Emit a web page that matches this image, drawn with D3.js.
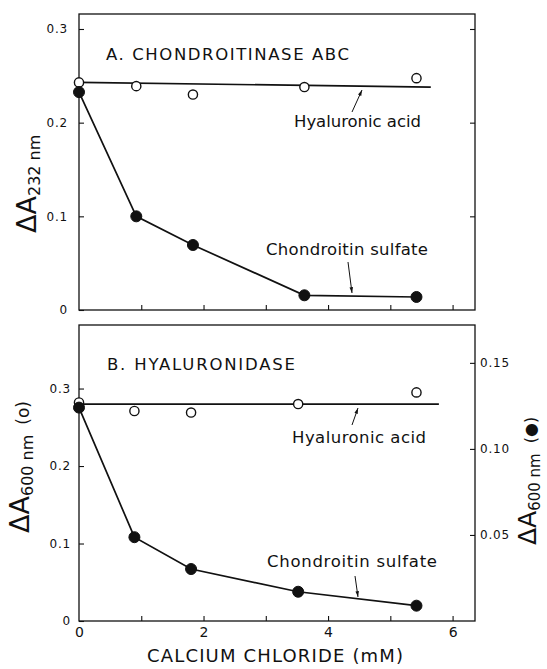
<!DOCTYPE html>
<html><head><meta charset="utf-8">
<script src="https://cdn.jsdelivr.net/npm/d3@7"></script>
<style>
html,body{margin:0;padding:0;background:#fff;}
svg{display:block;}
text{font-family:"DejaVu Sans","Liberation Sans",sans-serif;fill:#111;}
</style></head>
<body>
<script>
// ---------- DATA ----------
// Panel A: Chondroitinase ABC, ΔA232 nm
const xA = [0, 0.92, 1.83, 3.62, 5.42];
const hyaluronicA = [0.243, 0.239, 0.230, 0.238, 0.2475];
const chondroitinA = [0.2326, 0.100, 0.0694, 0.0157, 0.0139];
const hyaFitXA = [0, 5.65];
const hyaFitYA = [0.243, 0.238];
// Panel B: Hyaluronidase, ΔA600 nm (o left axis, ● right axis)
const xB = [0, 0.89, 1.80, 3.52, 5.42];
const hyaluronicB = [0.282, 0.271, 0.269, 0.280, 0.295];
const chondroitinB = [0.124, 0.0487, 0.0302, 0.0170, 0.0089];
const hyaFitXB = [0, 5.78];
const hyaFitYB = [0.280, 0.280];
// ticks
const xTickMarks = [1, 2, 3, 4, 5, 6];
const xTickLabels = [0, 2, 4, 6];
const yTicksA = [0, 0.1, 0.2, 0.3];
const yTicksBLeft = [0, 0.1, 0.2, 0.3];
const yTicksBRight = [0.05, 0.10, 0.15];

// ---------- LAYOUT ----------
const W = 547, H = 669;
const FONT = '"DejaVu Sans","Liberation Sans",sans-serif';
const svg = d3.select("body").append("svg").attr("width", W).attr("height", H);
const left = 79, right = 475;
const x = d3.scaleLinear().domain([0, 6.36]).range([left, right]);

const pA = {top: 14, bottom: 310};
const pB = {top: 325, bottom: 621};
const yA = d3.scaleLinear().domain([0, 0.316]).range([pA.bottom, pA.top]);
const yBL = d3.scaleLinear().domain([0, 0.382]).range([pB.bottom, pB.top]);
const yBR = d3.scaleLinear().domain([0, 0.172]).range([pB.bottom, pB.top]);

function frame(p) {
  svg.append("rect").attr("x", left).attr("y", p.top)
    .attr("width", right - left).attr("height", p.bottom - p.top)
    .attr("fill", "none").attr("stroke", "#111").attr("stroke-width", 1.3);
}
frame(pA); frame(pB);

function styleAxis(g, fs, ls) {
  g.select(".domain").remove();
  g.selectAll("line").attr("stroke", "#111").attr("stroke-width", 1.1);
  g.selectAll("text").attr("font-size", fs).attr("fill", "#111")
    .attr("letter-spacing", ls || 0).style("font-family", FONT);
}

// Panel A axes
svg.append("g").attr("transform", `translate(${left},0)`)
  .call(d3.axisLeft(yA).tickValues(yTicksA).tickSizeInner(-5).tickSizeOuter(0).tickPadding(11)
    .tickFormat(d => d === 0 ? "0" : d3.format(".1f")(d)))
  .call(g => styleAxis(g, 12, 0.8));
svg.append("g").attr("transform", `translate(${right},0)`)
  .call(d3.axisRight(yA).tickValues(yTicksA.filter(d => d > 0)).tickSizeInner(-5).tickSizeOuter(0).tickFormat(""))
  .call(g => styleAxis(g, 12));
svg.append("g").attr("transform", `translate(0,${pA.bottom})`)
  .call(d3.axisBottom(x).tickValues(xTickMarks).tickSizeInner(-5).tickSizeOuter(0).tickFormat(""))
  .call(g => styleAxis(g, 12));

// Panel B axes
svg.append("g").attr("transform", `translate(${left},0)`)
  .call(d3.axisLeft(yBL).tickValues(yTicksBLeft).tickSizeInner(-5).tickSizeOuter(0).tickPadding(8)
    .tickFormat(d => d === 0 ? "0" : d3.format(".1f")(d)))
  .call(g => styleAxis(g, 12, 0.8));
svg.append("g").attr("transform", `translate(${right},0)`)
  .call(d3.axisRight(yBR).tickValues(yTicksBRight).tickSizeInner(-5).tickSizeOuter(0).tickPadding(5)
    .tickFormat(d3.format(".2f")))
  .call(g => styleAxis(g, 12, 0.8));
svg.append("g").attr("transform", `translate(0,${pB.bottom})`)
  .call(d3.axisBottom(x).tickValues(xTickMarks).tickSizeInner(-5).tickSizeOuter(0).tickFormat(""))
  .call(g => styleAxis(g, 12));
svg.append("g").attr("transform", `translate(0,${pB.bottom})`)
  .call(d3.axisBottom(x).tickValues(xTickLabels).tickSize(0).tickPadding(6).tickFormat(d3.format("d")))
  .call(g => styleAxis(g, 14));

// ---------- MARKS ----------
function drawSeries(xs, ys, yScale, filled, withLine) {
  const pts = xs.map((d, i) => [x(d), yScale(ys[i])]);
  if (withLine) {
    svg.append("path").attr("d", d3.line()(pts))
      .attr("fill", "none").attr("stroke", "#111").attr("stroke-width", 1.7);
  }
  svg.append("g").selectAll("circle").data(pts).join("circle")
    .attr("cx", d => d[0]).attr("cy", d => d[1])
    .attr("r", filled ? 5.5 : 4.6)
    .attr("fill", filled ? "#111" : "#fff")
    .attr("stroke", "#111").attr("stroke-width", filled ? 1 : 1.4);
}
function fitLine(xs, ys, yScale) {
  svg.append("path").attr("d", d3.line()(xs.map((d, i) => [x(d), yScale(ys[i])])))
    .attr("fill", "none").attr("stroke", "#111").attr("stroke-width", 1.7);
}

fitLine(hyaFitXA, hyaFitYA, yA);
drawSeries(xA, hyaluronicA, yA, false, false);
drawSeries(xA, chondroitinA, yA, true, true);

fitLine(hyaFitXB, hyaFitYB, yBL);
drawSeries(xB, hyaluronicB, yBL, false, false);
drawSeries(xB, chondroitinB, yBR, true, true);

// ---------- ANNOTATIONS ----------
function txt(s, x1, x2, py, fs) {
  return svg.append("text").attr("x", x1).attr("y", py).attr("font-size", fs)
    .attr("textLength", x2 - x1).attr("lengthAdjust", "spacing").text(s);
}
function arrow(x1, y1, x2, y2) {
  svg.append("line").attr("x1", x1).attr("y1", y1).attr("x2", x2).attr("y2", y2)
    .attr("stroke", "#111").attr("stroke-width", 1);
  const a = Math.atan2(y2 - y1, x2 - x1), L = 6, s = 0.3;
  svg.append("path")
    .attr("d", `M${x2},${y2}L${x2 - L * Math.cos(a - s)},${y2 - L * Math.sin(a - s)}L${x2 - L * Math.cos(a + s)},${y2 - L * Math.sin(a + s)}Z`)
    .attr("fill", "#111");
}

txt("A.  CHONDROITINASE  ABC", 106, 349, 59.5, 16.5);
txt("Hyaluronic acid", 294, 421, 127, 16.5);
arrow(352, 112, 362, 90);
txt("Chondroitin  sulfate", 266, 428, 255, 16.5);
arrow(348, 262, 352, 293);

txt("B.  HYALURONIDASE", 107, 295, 370, 16.5);
txt("Hyaluronic acid", 292, 426, 443, 16.5);
arrow(352, 425, 358, 408);
txt("Chondroitin  sulfate", 267, 437, 567, 16.5);
arrow(355, 576, 358, 597);

// axis titles (rotated, reading bottom to top)
function yTitle(tx, ty, sub, extra, fsMain, fsSub) {
  const t = svg.append("text").attr("transform", `translate(${tx},${ty}) rotate(-90)`)
    .attr("text-anchor", "start");
  t.append("tspan").attr("font-size", fsMain).text("ΔA");
  t.append("tspan").attr("dy", 4).attr("font-size", fsSub).text(sub);
  if (extra) t.append("tspan").attr("dy", -4).attr("dx", 10).attr("font-size", fsSub + 1).text(extra);
}
yTitle(36, 233, "232 nm", null, 27, 16);
yTitle(29, 533, "600 nm", "(o)", 27, 16);
yTitle(536, 545, "600 nm", "(●)", 25, 15);

svg.append("text").attr("x", 147).attr("y", 662)
  .attr("font-size", 18).attr("textLength", 256).attr("lengthAdjust", "spacing")
  .text("CALCIUM CHLORIDE  (mM)");
</script>
</body></html>
